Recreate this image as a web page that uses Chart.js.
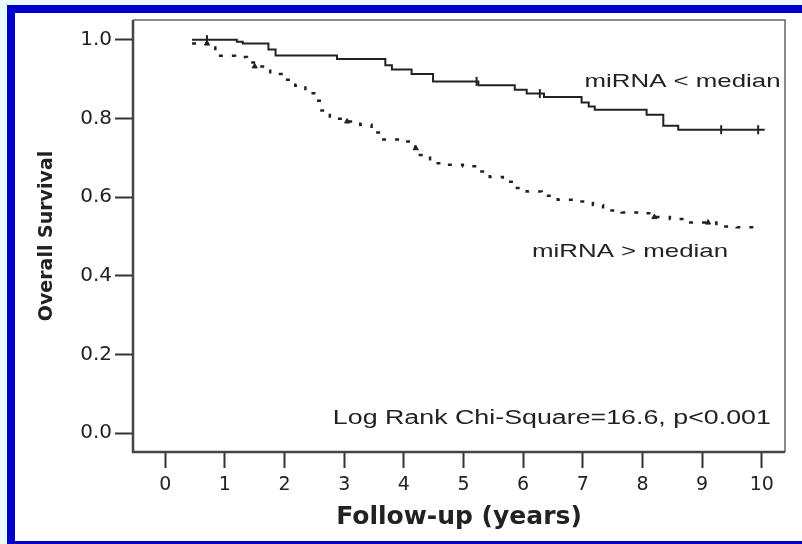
<!DOCTYPE html>
<html>
<head>
<meta charset="utf-8">
<script src="https://cdn.jsdelivr.net/npm/chart.js@4.4.0/dist/chart.umd.min.js"></script>
<style>
    html, body { margin: 0; padding: 0; overflow: hidden; }
    body { width: 802px; height: 544px; background: #e9fbfc; position: relative; }
    #frame {
        position: absolute; left: 7px; top: 5px;
        width: 820px; height: 528px;
        border: 8px solid #0000c8; background: #fff;
    }
    #chart { position: absolute; left: 0; top: 0; }
</style>
</head>
<body>
<div id="frame"></div>
<canvas id="chart" width="802" height="544"></canvas>
<script>
// Curva miRNA < median (linea continua)
const lowTimes = [0.45, 1.2, 1.3, 1.73, 1.85, 2.88, 3.69, 3.8, 4.13, 4.49, 5.25, 5.86, 6.06, 6.35, 6.98, 7.1, 7.2, 8.07, 8.35, 8.6, 10.05];
const lowSurv  = [1.0, 0.995, 0.99, 0.975, 0.96, 0.951, 0.935, 0.924, 0.913, 0.894, 0.884, 0.873, 0.863, 0.854, 0.84, 0.83, 0.822, 0.809, 0.781, 0.771, 0.771];
const lowCensorTimes = [0.7, 5.22, 6.28, 9.32, 9.94];
const lowCensorSurv  = [1.0, 0.894, 0.863, 0.771, 0.771];

// Curva miRNA > median (linea discontinua)
const highTimes = [0.45, 0.84, 1.17, 1.37, 1.51, 1.76, 1.95, 2.18, 2.35, 2.53, 2.62, 2.76, 3.04, 3.27, 3.46, 3.63, 3.94, 4.19, 4.27, 4.44, 4.66, 4.99, 5.24, 5.44, 5.66, 5.86, 6.06, 6.31, 6.58, 6.9, 7.17, 7.34, 7.65, 7.96, 8.18, 8.46, 8.71, 9.24, 9.58, 9.94];
const highSurv  = [0.99, 0.959, 0.956, 0.942, 0.932, 0.913, 0.898, 0.883, 0.864, 0.845, 0.82, 0.799, 0.792, 0.784, 0.764, 0.746, 0.741, 0.724, 0.707, 0.686, 0.682, 0.678, 0.665, 0.651, 0.639, 0.623, 0.614, 0.603, 0.593, 0.589, 0.58, 0.566, 0.561, 0.559, 0.549, 0.544, 0.535, 0.525, 0.523, 0.523];
const highCensorTimes = [0.7, 1.5, 3.05, 4.2, 8.2, 9.1];
const highCensorSurv  = [0.99, 0.932, 0.792, 0.724, 0.549, 0.535];

// Ejes
const xTicks = [0, 1, 2, 3, 4, 5, 6, 7, 8, 9, 10];
const yTicks = [0.0, 0.2, 0.4, 0.6, 0.8, 1.0];

const labels = [
    { text: 'miRNA < median', x: 7.03, y: 0.893, size: 19 },
    { text: 'miRNA > median', x: 6.15, y: 0.46, size: 19 },
    { text: 'Log Rank Chi-Square=16.6, p<0.001', x: 2.81, y: 0.038, size: 20 }
];

const toPoints = (xs, ys) => xs.map((x, i) => ({ x, y: ys[i] }));

const INK = '#222';
const FONT = "'Liberation Sans', Arial, sans-serif";
const WIDE = "'DejaVu Sans', sans-serif";

// Marco del area del grafico + textos (texto algo ensanchado como en la figura)
const framePlugin = {
    id: 'framePlugin',
    afterDraw(chart) {
        const { ctx, chartArea: a, scales } = chart;
        ctx.save();
        ctx.strokeStyle = '#666';
        ctx.lineWidth = 1.5;
        ctx.beginPath();
        ctx.moveTo(a.left, a.top);
        ctx.lineTo(a.right, a.top);
        ctx.lineTo(a.right, a.bottom);
        ctx.stroke();
        ctx.strokeStyle = '#444';
        ctx.lineWidth = 2.5;
        ctx.beginPath();
        ctx.moveTo(a.left, a.top);
        ctx.lineTo(a.left, a.bottom);
        ctx.lineTo(a.right, a.bottom);
        ctx.stroke();

        ctx.fillStyle = INK;
        ctx.textBaseline = 'middle';
        labels.forEach(l => {
            ctx.save();
            ctx.font = `${l.size}px ${FONT}`;
            ctx.translate(scales.x.getPixelForValue(l.x), scales.y.getPixelForValue(l.y));
            ctx.scale(l.size === 20 ? 1.34 : 1.36, 1);
            ctx.fillText(l.text, 0, 0);
            ctx.restore();
        });
        ctx.restore();
    }
};

new Chart(document.getElementById('chart'), {
    type: 'line',
    data: {
        datasets: [
            {
                label: 'miRNA < median',
                data: toPoints(lowTimes, lowSurv),
                borderColor: INK,
                borderWidth: 2,
                stepped: true,
                pointRadius: 0,
                fill: false
            },
            {
                label: 'miRNA > median',
                data: toPoints(highTimes, highSurv),
                borderColor: INK,
                borderWidth: 2.5,
                borderDash: [4, 9],
                stepped: true,
                pointRadius: 0,
                fill: false
            },
            {
                type: 'scatter',
                data: toPoints(lowCensorTimes, lowCensorSurv),
                pointStyle: 'line',
                rotation: 90,
                pointRadius: 4.5,
                borderColor: INK,
                borderWidth: 2
            },
            {
                type: 'scatter',
                data: toPoints(highCensorTimes, highCensorSurv),
                pointStyle: 'triangle',
                pointRadius: 3,
                backgroundColor: INK,
                borderColor: INK,
                borderWidth: 1
            }
        ]
    },
    options: {
        responsive: false,
        animation: false,
        layout: { padding: { top: 20, right: 17, left: 0, bottom: 0 } },
        plugins: {
            legend: { display: false },
            tooltip: { enabled: false }
        },
        scales: {
            x: {
                type: 'linear',
                min: -0.54,
                max: 10.39,
                afterBuildTicks: s => { s.ticks = xTicks.map(v => ({ value: v })); },
                afterFit: s => { s.height = 92; },
                grid: { drawOnChartArea: false, tickLength: 16, tickColor: '#333', tickWidth: 2 },
                border: { display: false },
                ticks: { color: INK, font: { family: WIDE, size: 19 }, padding: 6, maxRotation: 0 },
                title: {
                    display: true,
                    text: 'Follow-up (years)',
                    color: INK,
                    font: { family: WIDE, size: 25, weight: 'bold' },
                    padding: { top: 0, bottom: 12 }
                }
            },
            y: {
                min: -0.048,
                max: 1.05,
                afterBuildTicks: s => { s.ticks = yTicks.map(v => ({ value: v })); },
                afterFit: s => { s.width = 133; },
                grid: { drawOnChartArea: false, tickLength: 18, tickColor: '#333', tickWidth: 2 },
                border: { display: false },
                ticks: {
                    color: INK,
                    font: { family: WIDE, size: 20 },
                    padding: 3,
                    callback: v => v.toFixed(1)
                },
                title: {
                    display: true,
                    text: 'Overall Survival',
                    color: INK,
                    font: { family: WIDE, size: 19, weight: 'bold' },
                    padding: { top: 36, bottom: 36 }
                }
            }
        }
    },
    plugins: [framePlugin]
});
</script>
</body>
</html>
